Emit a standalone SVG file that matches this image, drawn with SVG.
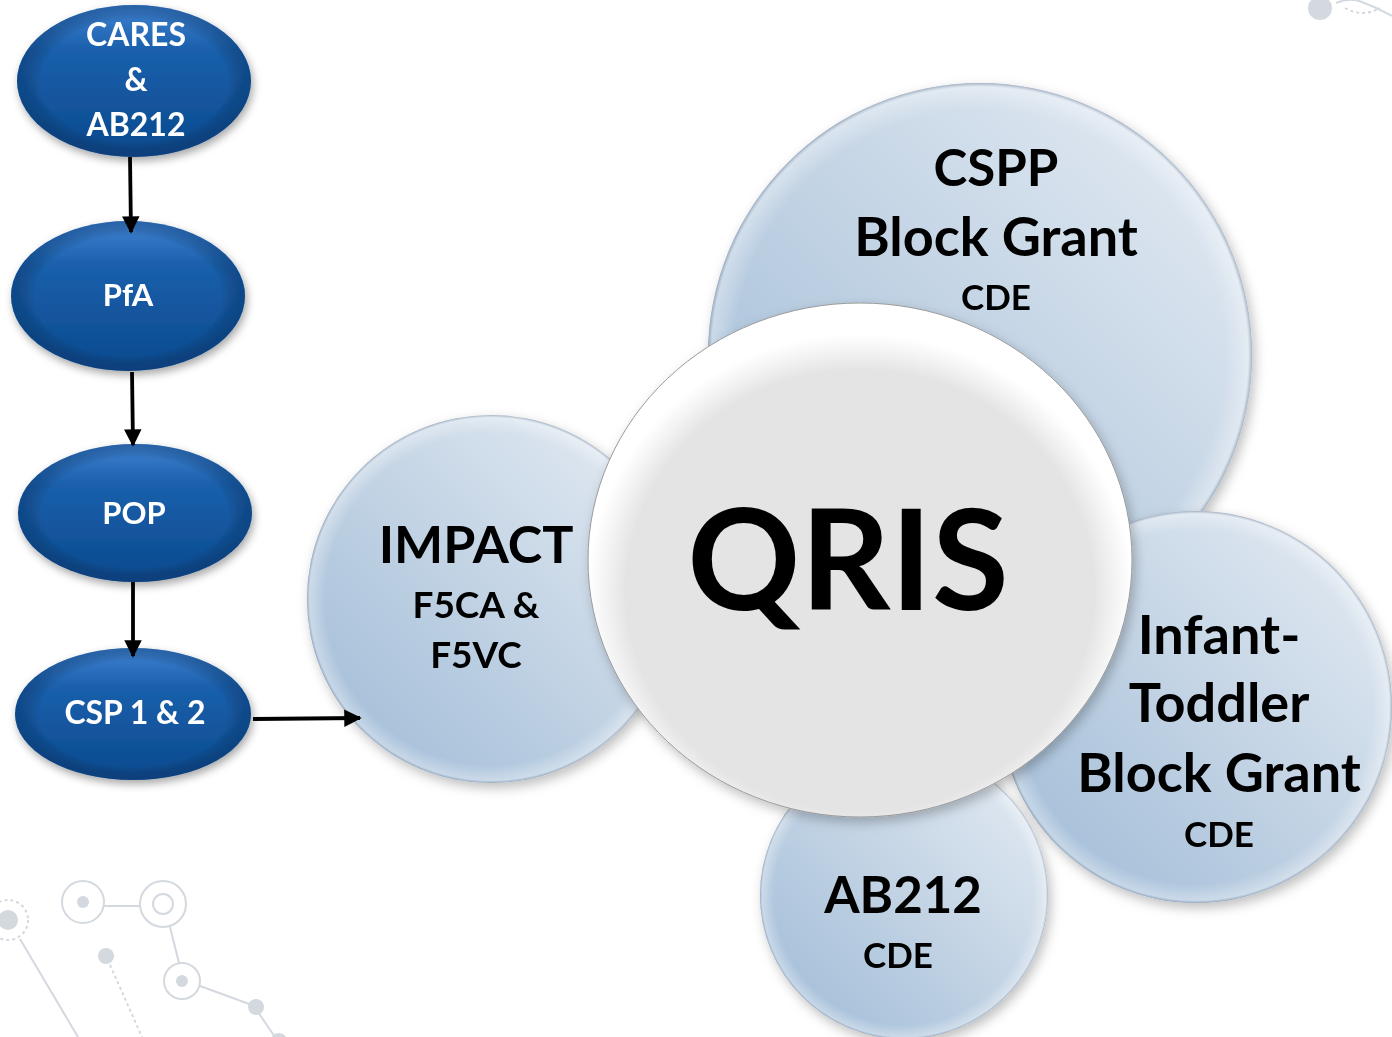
<svg xmlns="http://www.w3.org/2000/svg" width="1392" height="1037" viewBox="0 0 1392 1037">
<defs>
  <linearGradient id="gBlue" x1="0" y1="0" x2="0" y2="1">
    <stop offset="0" stop-color="#3f82d2"/>
    <stop offset="0.3" stop-color="#1a5fab"/>
    <stop offset="1" stop-color="#0b4a8e"/>
  </linearGradient>
  <radialGradient id="gBlueEdge" cx="0.5" cy="0.5" r="0.5">
    <stop offset="0.8" stop-color="#000" stop-opacity="0"/>
    <stop offset="1" stop-color="#002a5a" stop-opacity="0.35"/>
  </radialGradient>
  <linearGradient id="gLight" x1="0" y1="1" x2="1" y2="0">
    <stop offset="0" stop-color="#9cb9d6"/>
    <stop offset="0.5" stop-color="#c2d3e4"/>
    <stop offset="1" stop-color="#e8eef5"/>
  </linearGradient>
  <radialGradient id="gRim" cx="0.5" cy="0.5" r="0.5">
    <stop offset="0.9" stop-color="#fff" stop-opacity="0"/>
    <stop offset="0.985" stop-color="#fff" stop-opacity="0.35"/>
    <stop offset="1" stop-color="#7d8fa5" stop-opacity="0.6"/>
  </radialGradient>
  <radialGradient id="gQ" cx="0.5" cy="0.56" r="0.5">
    <stop offset="0.86" stop-color="#e4e4e4"/>
    <stop offset="0.94" stop-color="#f4f4f4"/>
    <stop offset="1" stop-color="#ffffff"/>
  </radialGradient>
  <filter id="sh" x="-20%" y="-20%" width="140%" height="140%">
    <feDropShadow dx="2" dy="4" stdDeviation="4" flood-color="#000" flood-opacity="0.35"/>
  </filter>
  <filter id="shc" x="-20%" y="-20%" width="140%" height="140%">
    <feDropShadow dx="3" dy="5" stdDeviation="6" flood-color="#000" flood-opacity="0.25"/>
  </filter>
  <marker id="arr" viewBox="0 0 10 10" refX="9" refY="5" markerWidth="4.6" markerHeight="4.6" orient="auto" markerUnits="strokeWidth">
    <path d="M0,0 L10,5 L0,10 z" fill="#000"/>
  </marker>
</defs>
<style>
  .w { font-family: Lato, "Open Sans", sans-serif; font-weight: bold; fill: #ffffff; text-anchor: middle; }
  .k { font-family: Lato, "Open Sans", sans-serif; font-weight: bold; fill: #000000; text-anchor: middle; }
  .deco { fill: none; stroke: #d3d9df; stroke-width: 2; }
  .decof { fill: #d3d9df; }
  .conn { stroke: #000; stroke-width: 3.8; fill: none; }
</style>
<rect width="1392" height="1037" fill="#ffffff"/>

<!-- decorations -->
<g id="decoration">
  <circle class="decof" cx="8" cy="920" r="10"/>
  <circle class="deco" cx="8" cy="920" r="20" stroke-dasharray="3 3"/>
  <line class="deco" x1="20" y1="939" x2="78" y2="1037"/>
  <circle class="deco" cx="83" cy="902" r="21"/>
  <circle class="decof" cx="83" cy="902" r="6"/>
  <line class="deco" x1="104" y1="906" x2="141" y2="906"/>
  <circle class="deco" cx="163" cy="904" r="23"/>
  <circle class="deco" cx="163" cy="904" r="10"/>
  <line class="deco" x1="170" y1="927" x2="179" y2="963"/>
  <circle class="deco" cx="182" cy="981" r="18"/>
  <circle class="decof" cx="182" cy="981" r="6"/>
  <line class="deco" x1="200" y1="986" x2="252" y2="1005"/>
  <circle class="decof" cx="256" cy="1007" r="8"/>
  <line class="deco" x1="258" y1="1012" x2="275" y2="1037"/>
  <circle class="decof" cx="279" cy="1041" r="8"/>
  <circle class="decof" cx="106" cy="956" r="8"/>
  <line class="deco" x1="110" y1="965" x2="142" y2="1037" stroke-dasharray="3 3"/>
  <circle class="decof" cx="1320" cy="8" r="12"/>
  <path class="deco" d="M1336,3 Q1350,-3 1362,2 Q1378,8 1392,16"/>
  <path class="deco" d="M1345,8 Q1362,18 1380,8" stroke-dasharray="3 3"/>
</g>

<!-- blue ellipses -->
<g id="node-cares" filter="url(#sh)">
  <ellipse cx="134" cy="81" rx="117" ry="76" fill="url(#gBlue)"/>
  <ellipse cx="134" cy="81" rx="117" ry="76" fill="url(#gBlueEdge)"/>
  <text class="w" x="136" y="46" font-size="32">CARES</text>
  <text class="w" x="136" y="91" font-size="32">&amp;</text>
  <text class="w" x="136" y="136" font-size="32">AB212</text>
</g>
<g id="node-pfa" filter="url(#sh)">
  <ellipse cx="128" cy="296" rx="117" ry="75" fill="url(#gBlue)"/>
  <ellipse cx="128" cy="296" rx="117" ry="75" fill="url(#gBlueEdge)"/>
  <text class="w" x="128" y="306" font-size="31">PfA</text>
</g>
<g id="node-pop" filter="url(#sh)">
  <ellipse cx="135" cy="513" rx="117" ry="69" fill="url(#gBlue)"/>
  <ellipse cx="135" cy="513" rx="117" ry="69" fill="url(#gBlueEdge)"/>
  <text class="w" x="134" y="524" font-size="31">POP</text>
</g>
<g id="node-csp" filter="url(#sh)">
  <ellipse cx="133" cy="714" rx="118" ry="66" fill="url(#gBlue)"/>
  <ellipse cx="133" cy="714" rx="118" ry="66" fill="url(#gBlueEdge)"/>
  <text class="w" x="135" y="724" font-size="32">CSP 1 &amp; 2</text>
</g>

<!-- circles -->
<g id="node-cspp" filter="url(#shc)">
  <circle cx="980" cy="355" r="272" fill="url(#gLight)"/>
  <circle cx="980" cy="355" r="272" fill="url(#gRim)"/>
  <text class="k" x="996" y="186" font-size="51">CSPP</text>
  <text class="k" x="996" y="256" font-size="54">Block Grant</text>
  <text class="k" x="996" y="310" font-size="35">CDE</text>
</g>
<g id="node-infant" filter="url(#shc)">
  <circle cx="1196" cy="707" r="196" fill="url(#gLight)"/>
  <circle cx="1196" cy="707" r="196" fill="url(#gRim)"/>
  <text class="k" x="1219" y="654" font-size="54">Infant-</text>
  <text class="k" x="1219" y="722" font-size="54">Toddler</text>
  <text class="k" x="1219" y="792" font-size="54">Block Grant</text>
  <text class="k" x="1219" y="847" font-size="35">CDE</text>
</g>
<g id="node-ab212" filter="url(#shc)">
  <circle cx="904" cy="895" r="144" fill="url(#gLight)"/>
  <circle cx="904" cy="895" r="144" fill="url(#gRim)"/>
  <text class="k" x="903" y="913" font-size="51">AB212</text>
  <text class="k" x="898" y="968" font-size="35">CDE</text>
</g>
<g id="node-impact" filter="url(#shc)">
  <circle cx="491" cy="599" r="184" fill="url(#gLight)"/>
  <circle cx="491" cy="599" r="184" fill="url(#gRim)"/>
  <text class="k" x="476" y="563" font-size="52">IMPACT</text>
  <text class="k" x="476" y="618" font-size="37">F5CA &amp;</text>
  <text class="k" x="476" y="668" font-size="37">F5VC</text>
</g>
<g id="node-qris" filter="url(#shc)">
  <ellipse cx="860" cy="560" rx="272" ry="257" fill="url(#gQ)" stroke="#9a9a9a" stroke-width="1"/>
  <text class="k" x="848" y="610" font-size="140">QRIS</text>
</g>

<!-- connectors -->
<g id="connectors">
  <line class="conn" x1="130" y1="157" x2="131" y2="232" marker-end="url(#arr)"/>
  <line class="conn" x1="132" y1="372" x2="133" y2="445" marker-end="url(#arr)"/>
  <line class="conn" x1="133" y1="582" x2="133" y2="656" marker-end="url(#arr)"/>
  <line class="conn" x1="253" y1="719" x2="360" y2="718" marker-end="url(#arr)"/>
</g>
</svg>
